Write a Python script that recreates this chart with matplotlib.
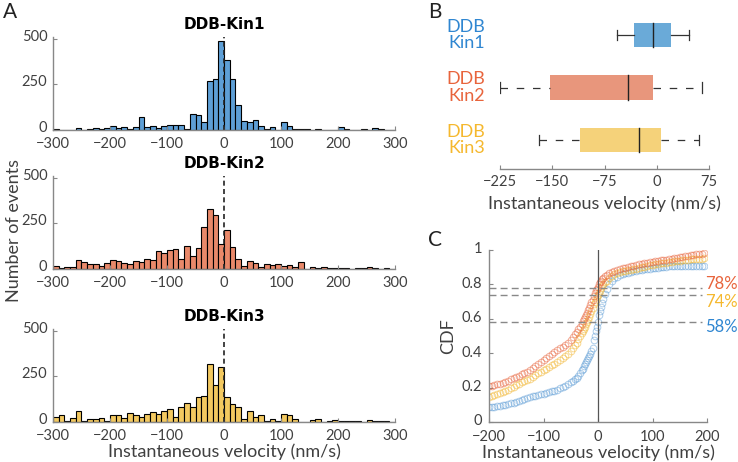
import numpy as np
import matplotlib
matplotlib.use("Agg")
import matplotlib.pyplot as plt
from matplotlib.transforms import ScaledTranslation

plt.rcParams["font.family"] = ["Lato", "DejaVu Sans"]

# ---- data ----
bin_edges = np.arange(-300, 301, 10)
kin1_counts = [3, 2, 0, 0, 12, 2, 8, 12, 6, 10,
               22, 12, 15, 5, 15, 70, 15, 20, 10, 22,
               30, 30, 28, 5, 90, 80, 45, 270, 280, 490,
               385, 280, 135, 50, 45, 55, 20, 8, 15, 2,
               45, 20, 8, 5, 3, 2, 3, 2, 2, 2,
               15, 3, 2, 2, 3, 2, 10, 3, 2, 2]
kin2_counts = [18, 5, 9, 9, 50, 38, 27, 27, 18, 33,
               49, 45, 35, 29, 44, 36, 55, 49, 100, 87,
               102, 109, 55, 127, 73, 115, 229, 329, 296, 136,
               213, 122, 55, 18, 42, 31, 11, 27, 24, 29,
               18, 24, 13, 38, 0, 13, 5, 10, 5, 3,
               8, 3, 2, 5, 3, 10, 3, 2, 3, 2]
kin3_counts = [27, 36, 5, 22, 60, 5, 15, 18, 24, 4,
               40, 40, 22, 47, 38, 29, 45, 55, 45, 60,
               73, 27, 85, 104, 82, 138, 140, 318, 204, 304,
               136, 100, 85, 18, 62, 25, 40, 4, 18, 4,
               42, 36, 18, 2, 0, 11, 15, 2, 8, 12,
               5, 3, 8, 3, 2, 10, 3, 5, 3, 2]
hist_names = ["DDB-Kin1", "DDB-Kin2", "DDB-Kin3"]

box_labels = ["DDB\nKin1", "DDB\nKin2", "DDB\nKin3"]
box_low = [-57, -225, -169]
box_q1 = [-32, -153, -110]
box_med = [-6, -41, -25]
box_q3 = [20, -6, 6]
box_high = [46, 65, 61]

cdf_x = [-200, -195, -190, -185, -180, -175, -170, -165, -160, -155,
         -150, -145, -140, -135, -130, -125, -120, -115, -110, -105,
         -100, -95, -90, -85, -80, -75, -70, -65, -60, -55, -50, -45,
         -42, -39, -36, -33, -30,
         -28, -26, -24, -22, -20, -18, -16, -14, -12, -10,
         -8, -6, -4, -2, 0, 2, 4, 6, 8, 10,
         13, 16,
         20, 25, 30, 35, 40, 45, 50, 55, 60, 65, 70, 75, 80, 85, 90, 95,
         100, 105, 110, 115, 120, 125, 130, 135, 140, 145, 150, 155, 160,
         165, 170, 175, 180, 185, 190, 195]
cdf_kin2 = [.208, .212, .216, .22, .223, .227, .233, .24, .248, .255,
            .262, .27, .277, .285, .292, .30, .312, .325, .338, .35,
            .36, .372, .383, .395, .406, .418, .428, .438, .45, .462, .476, .495,
            .51, .525, .54, .555, .57,
            .585, .597, .608, .62, .635, .65, .665, .68, .695, .71,
            .735, .75, .765, .775, .782, .80, .812, .822, .832, .84,
            .848, .856,
            .864, .872, .878, .884, .889, .893, .897, .901, .905, .909, .913, .917, .92, .923, .926, .929,
            .932, .935, .937, .94, .942, .944, .947, .95, .953, .955, .957, .96, .963,
            .966, .969, .972, .975, .977, .979, .98]
cdf_kin3 = [.146, .15, .156, .162, .167, .173, .18, .188, .197, .205,
            .214, .222, .23, .237, .245, .252, .262, .272, .282, .292,
            .30, .31, .32, .33, .34, .35, .36, .37, .382, .395, .41, .428,
            .445, .46, .48, .498, .515,
            .528, .54, .553, .567, .58, .595, .61, .628, .645, .665,
            .685, .70, .712, .725, .738, .75, .763, .777, .79, .80,
            .812, .822,
            .835, .848, .858, .866, .872, .876, .88, .883, .886, .889, .892, .895, .899, .903, .907, .91,
            .913, .916, .919, .922, .925, .927, .93, .932, .934, .936, .938, .94, .942,
            .943, .945, .946, .948, .949, .95, .951]
cdf_kin1 = [.087, .088, .09, .092, .094, .097, .10, .104, .108, .112,
            .117, .122, .128, .134, .14, .146, .15, .154, .158, .162,
            .165, .169, .173, .178, .183, .188, .195, .203, .211, .22, .23, .24,
            .248, .256, .266, .285, .30,
            .31, .325, .34, .35, .36, .372, .383, .395, .41, .43,
            .476, .50, .53, .555, .58, .62, .645, .668, .69, .715,
            .745, .775,
            .80, .822, .835, .845, .854, .86, .864, .868, .872, .876, .879, .882, .885, .888, .89, .892,
            .893, .895, .898, .90, .902, .904, .905, .906, .907, .907, .907, .907, .907,
            .907, .907, .907, .907, .907, .907, .907]
minus_pct = ["58%", "78%", "74%"]
minus_frac = [0.58, 0.78, 0.74]

# ---- style ----
bar_colors = ["#5e9fd6", "#e9896a", "#f3c960"]
box_colors = ["#6aaad8", "#e8967c", "#f5d27a"]
text_colors = ["#2f86d1", "#e8643c", "#f5b82e"]
cdf_colors = ["#5b9bd5", "#e8643c", "#f2b42c"]
gray = "#888888"
tcol = "#404040"

fig = plt.figure(figsize=(7.38, 4.62), dpi=100)
W, H = 738, 462


def px_axes(l, t, r, b):
    return fig.add_axes([l / W, 1 - b / H, (r - l) / W, (b - t) / H])


def style(ax):
    for s in ["top", "right"]:
        ax.spines[s].set_visible(False)
    for s in ["left", "bottom"]:
        ax.spines[s].set_color(gray)
        ax.spines[s].set_linewidth(1.0)
    ax.tick_params(direction="in", length=3, color=gray, labelcolor=tcol,
                   labelsize=10.5, pad=2)


def lift_yticklabels(ax, pts):
    for lab in ax.get_yticklabels():
        lab.set_transform(lab.get_transform() +
                          ScaledTranslation(0, pts / 72, fig.dpi_scale_trans))


# ---- panel A ----
hist_boxes = [(53, 37, 395, 130), (53, 176, 395, 269), (53, 329, 395, 422)]
for counts, name, col, (l, t, r, b) in zip([kin1_counts, kin2_counts, kin3_counts],
                                           hist_names, bar_colors, hist_boxes):
    ax = px_axes(l, t, r, b)
    ax.bar(bin_edges[:-1], counts, width=10, align="edge", color=col,
           edgecolor="black", linewidth=0.8)
    ax.axvline(0, color="#222222", linestyle=(0, (3, 2)), linewidth=1.2)
    ax.set_xlim(-300, 300)
    ax.set_ylim(0, 510)
    ax.set_xticks([-300, -200, -100, 0, 100, 200, 300])
    ax.set_yticks([0, 250, 500])
    style(ax)
    ax.tick_params(axis="x", pad=5)
    ax.tick_params(axis="y", pad=4)
    lift_yticklabels(ax, 2.5)
    ax.text(0, 535, name, ha="center", va="bottom", fontsize=11,
            fontweight="bold", family=["DejaVu Sans"], color="black")
    if name == "DDB-Kin3":
        ax.set_xlabel("Instantaneous velocity (nm/s)", fontsize=13,
                      color=tcol, labelpad=0)

fig.text(14 / W, 1 - 230 / H, "Number of events", rotation=90, ha="center",
         va="center", fontsize=13, color=tcol)

# ---- panel B ----
axb = px_axes(500, 6, 709, 169)
pos = [3, 2, 1]
for i in range(3):
    y = pos[i]
    hb = 0.235
    axb.fill_between([box_q1[i], box_q3[i]], y - hb, y + hb,
                     color=box_colors[i], linewidth=0)
    axb.plot([box_med[i], box_med[i]], [y - hb, y + hb], color="#222222",
             linewidth=1.0)
    ls = "-" if i == 0 else (0, (6, 7))
    axb.plot([box_low[i], box_q1[i]], [y, y], color="#333333", linewidth=0.9,
             linestyle=ls)
    axb.plot([box_q3[i], box_high[i]], [y, y], color="#333333", linewidth=0.9,
             linestyle=ls)
    for v in [box_low[i], box_high[i]]:
        axb.plot([v, v], [y - 0.1, y + 0.1], color="#333333", linewidth=0.9)
    axb.text(-247, y, box_labels[i], ha="right", va="center", fontsize=13,
             color=text_colors[i], linespacing=1.05)
axb.set_xlim(-225, 75)
axb.set_ylim(0.45, 3.55)
axb.set_xticks([-225, -150, -75, 0, 75])
axb.set_yticks([])
style(axb)
axb.tick_params(axis="x", pad=4)
axb.spines["left"].set_visible(False)
axb.set_xlabel("Instantaneous velocity (nm/s)", fontsize=13, color=tcol,
               labelpad=5)

# ---- panel C ----
axc = px_axes(489, 250, 707, 422)
for ys, col in zip([cdf_kin1, cdf_kin3, cdf_kin2],
                   [cdf_colors[0], cdf_colors[2], cdf_colors[1]]):
    axc.plot(cdf_x, ys, linestyle="none", marker="o", markersize=4.8,
             markerfacecolor="none", markeredgecolor=col, markeredgewidth=0.7,
             alpha=0.5)
axc.axvline(0, color="#555555", linewidth=0.9)
for frac in minus_frac:
    axc.hlines(frac, -200, 190, colors=gray, linestyles=(0, (5, 3)),
               linewidth=1.0)
axc.text(0.99, 0.80, minus_pct[1], transform=axc.transAxes, ha="left",
         va="center", fontsize=12, color=text_colors[1])
axc.text(0.99, 0.70, minus_pct[2], transform=axc.transAxes, ha="left",
         va="center", fontsize=12, color=text_colors[2])
axc.text(0.99, 0.555, minus_pct[0], transform=axc.transAxes, ha="left",
         va="center", fontsize=12, color=text_colors[0])
axc.set_xlim(-200, 200)
axc.set_ylim(0, 1)
axc.set_xticks([-200, -100, 0, 100, 200])
axc.set_yticks([0, 0.2, 0.4, 0.6, 0.8, 1])
axc.set_yticklabels(["0", "0.2", "0.4", "0.6", "0.8", "1"])
style(axc)
axc.tick_params(axis="x", pad=6)
axc.tick_params(axis="y", pad=5)
lift_yticklabels(axc, 1.5)
axc.set_ylabel("CDF", fontsize=13, color=tcol, labelpad=4)
axc.set_xlabel("Instantaneous velocity (nm/s)", fontsize=13, color=tcol,
               labelpad=0)

# panel letters
fig.text(3 / W, 1 - 12 / H, "A", fontsize=15, va="center", color="#222222")
fig.text(428 / W, 1 - 12 / H, "B", fontsize=15, va="center", color="#222222")
fig.text(428 / W, 1 - 240 / H, "C", fontsize=15, va="center", color="#222222")

fig.savefig("out.png", dpi=100)
